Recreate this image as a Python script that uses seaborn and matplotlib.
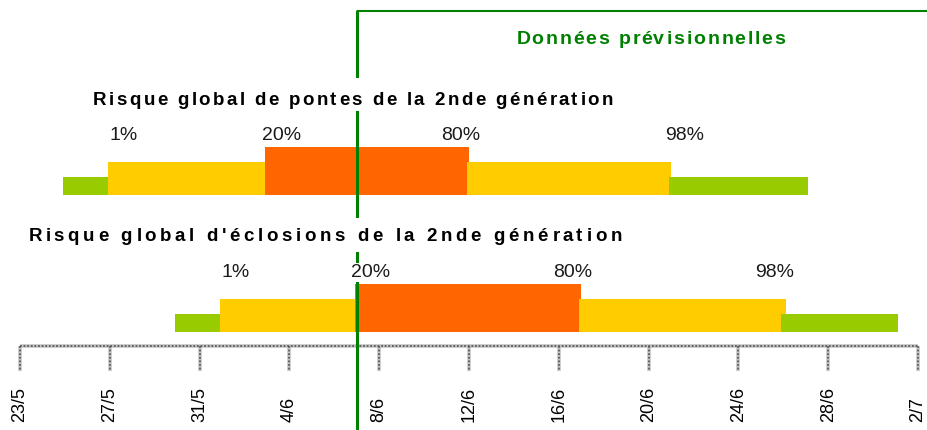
import matplotlib
matplotlib.use("Agg")
import matplotlib.pyplot as plt
from matplotlib import ft2font, font_manager
from matplotlib.font_manager import FontProperties
from matplotlib.patches import Rectangle
import pandas as pd
import seaborn as sns

# ---- data (days counted from 23 May) ----
tick_days = [0, 4, 8, 12, 16, 20, 24, 28, 32, 36, 40]
tick_labels = ["23/5", "27/5", "31/5", "4/6", "8/6", "12/6", "16/6",
               "20/6", "24/6", "28/6", "2/7"]
today = 15  # 7/6 : start of the forecast period

risk_classes = ["faible", "moyen", "fort", "moyen", "faible"]
pontes_start = [1.9, 3.9, 10.9, 19.9, 28.9]
pontes_end = [3.9, 10.9, 20.0, 29.0, 35.1]
eclosions_start = [6.9, 8.9, 14.9, 24.9, 33.9]
eclosions_end = [8.9, 14.9, 25.0, 34.1, 39.1]

pct_labels = ["1%", "20%", "80%", "98%"]
pontes_pct_days = [4.6, 11.65, 19.65, 29.6]
eclosions_pct_days = [9.6, 15.6, 24.6, 33.6]

title_pontes = "Risque global de pontes de la 2nde génération"
title_eclosions = "Risque global d'éclosions de la 2nde génération"
forecast_label = "Données prévisionnelles"

# ---- styling ----
sns.set_theme(style="white")
plt.rcParams["font.family"] = ["Liberation Sans", "DejaVu Sans"]

colors = {"faible": "#99CC00", "moyen": "#FFCC00", "fort": "#FF6600"}
bar_h = {"faible": 18, "moyen": 33, "fort": 48}
GREEN = "#008000"

W, H = 928, 430
PX_PER_DAY = 22.45
X_ORIGIN = 20


def px2day(x):
    return (x - X_ORIGIN) / PX_PER_DAY


fig = plt.figure(figsize=(W / 100, H / 100), dpi=100)
ax = fig.add_axes([0, 0, 1, 1])
ax.set_xlim(px2day(0), px2day(W))
ax.set_ylim(H, 0)
ax.axis("off")


def tracked_text(x_px, y_px, s, size, track, weight="normal", color="black",
                 backdrop=None):
    """Draw a string with extra letter spacing, left aligned at x_px."""
    fp = FontProperties(family="Liberation Sans", weight=weight, size=size)
    font = ft2font.FT2Font(font_manager.findfont(fp))
    font.set_size(size, 100)
    pen = x_px
    for ch in s:
        g = font.load_char(ord(ch), flags=ft2font.LoadFlags.NO_HINTING)
        if ch != " ":
            ax.text(px2day(pen + g.horiBearingX / 64), y_px, ch,
                    fontproperties=fp, color=color, ha="left",
                    va="baseline", zorder=6)
        pen += g.linearHoriAdvance / 65536 + track
    if backdrop is not None:
        top, bottom = backdrop
        ax.add_patch(Rectangle((px2day(x_px - 3), top),
                               px2day(pen + 3) - px2day(x_px - 3),
                               bottom - top, facecolor="white",
                               edgecolor="none", zorder=5))
    return pen


# ---- risk bars ----
rows = [
    (pontes_start, pontes_end, 195),
    (eclosions_start, eclosions_end, 332),
]
for starts, ends, base in rows:
    df = pd.DataFrame({"classe": risk_classes, "debut": starts, "fin": ends})
    for r in df.itertuples():
        h = bar_h[r.classe]
        ax.barh(base - h, r.fin - r.debut, left=r.debut, height=h,
                align="edge", color=colors[r.classe], linewidth=0, zorder=2)

# ---- percentile labels ----
for days, base in [(pontes_pct_days, 140.5), (eclosions_pct_days, 277)]:
    for d, lab in zip(days, pct_labels):
        ax.text(d, base, lab, fontsize=14, color="#1a1a1a", ha="center",
                va="baseline", zorder=6,
                bbox=dict(facecolor="white", edgecolor="none", pad=0.8))

# ---- time axis (dotted grey line and ticks) ----
AX_Y, TICK_END = 346, 371
for lw, col, ls in [(2.6, "#c4c4c4", "solid"), (1.3, "#5a5a5a", (0, (1, 1)))]:
    ax.hlines(AX_Y, tick_days[0], tick_days[-1], colors=col, linewidth=lw,
              linestyles=ls, zorder=1)
    ax.vlines(tick_days, AX_Y, TICK_END, colors=col, linewidth=lw,
              linestyles=ls, zorder=1)
for d, lab in zip(tick_days, tick_labels):
    ax.text(d, 422, lab, rotation=90, fontsize=13, color="black",
            ha="center", va="bottom")

# ---- forecast marker ----
ax.vlines(today, 10, H, colors=GREEN, linewidth=2.2, zorder=4)
ax.hlines(11, today, px2day(W), colors=GREEN, linewidth=1.5, zorder=4)
tracked_text(515, 43.5, forecast_label, 14, 1.8, weight="bold", color=GREEN)

# ---- titles ----
tracked_text(92, 105, title_pontes, 13.5, 2.4, weight="bold",
             backdrop=(78, 111))
tracked_text(27, 241, title_eclosions, 13.5, 3.6, weight="bold",
             backdrop=(218, 252))

fig.savefig("out.png", dpi=100)
